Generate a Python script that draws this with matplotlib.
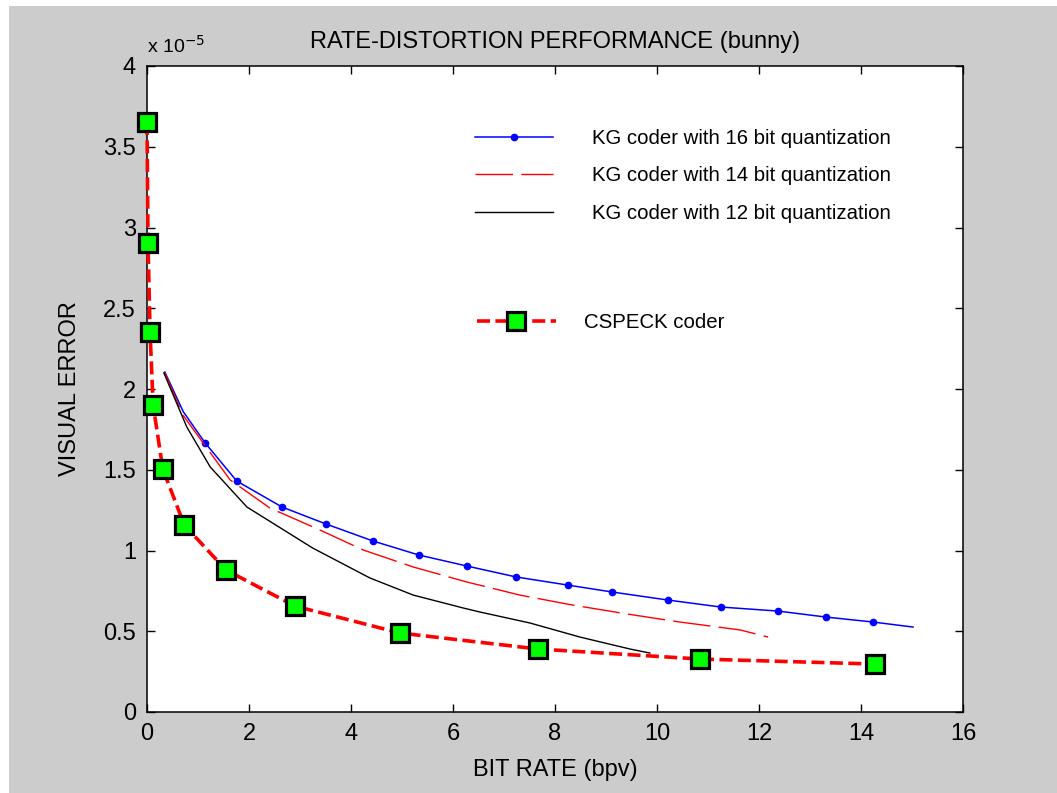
import matplotlib
matplotlib.use("Agg")
import matplotlib.pyplot as plt
from matplotlib.patches import Rectangle
from matplotlib.ticker import FormatStrFormatter

# Data (visual error in units of 1e-5)
kg16_rate = [0.35, 0.71, 1.14, 1.76, 2.65, 3.51, 4.43, 5.33, 6.27, 7.24, 8.25,
             9.12, 10.22, 11.25, 12.37, 13.31, 14.24, 15.02]
kg16_err = [2.105, 1.86, 1.666, 1.430, 1.269, 1.164, 1.059, 0.972, 0.904, 0.836,
            0.786, 0.743, 0.693, 0.650, 0.625, 0.588, 0.557, 0.526]

kg14_rate = [0.35, 0.70, 1.63, 2.41, 3.39, 4.24, 5.22, 6.27, 7.31, 8.33, 9.41,
             10.45, 11.63, 12.18]
kg14_err = [2.100, 1.840, 1.437, 1.263, 1.127, 1.003, 0.898, 0.805, 0.724, 0.663,
            0.607, 0.557, 0.508, 0.464]

kg12_rate = [0.33, 0.78, 1.24, 1.96, 3.25, 4.37, 5.22, 6.20, 6.53, 7.51, 8.49, 9.47, 9.86]
kg12_err = [2.100, 1.765, 1.517, 1.269, 1.015, 0.830, 0.724, 0.644, 0.619, 0.551,
            0.464, 0.390, 0.365]

cspeck_rate = [0.0, 0.02, 0.06, 0.12, 0.31, 0.73, 1.55, 2.90, 4.96, 7.67, 10.84, 14.27]
cspeck_err = [3.653, 2.904, 2.353, 1.90, 1.505, 1.158, 0.879, 0.656, 0.489, 0.390,
              0.328, 0.297]

labels = [
    "KG coder with 16 bit quantization",
    "KG coder with 14 bit quantization",
    "KG coder with 12 bit quantization",
    "CSPECK coder",
]

gray = "#cccccc"
plt.rcParams["font.family"] = ["Liberation Sans", "DejaVu Sans"]

fig = plt.figure(figsize=(10.57, 7.93), dpi=100, facecolor="white")
# matlab-style grey window (thin white strip at top/left)
fig.patches.append(Rectangle((9 / 1057, 0), 1 - 9 / 1057, 1 - 6 / 793,
                             transform=fig.transFigure, facecolor=gray,
                             edgecolor="none", zorder=-10))

ax = fig.add_axes([147 / 1057, 1 - 712 / 793, 816 / 1057, 646 / 793])
ax.set_facecolor("white")

l16, = ax.plot(kg16_rate, kg16_err, color="blue", lw=1.1, marker="o", ms=4.5,
               markevery=list(range(2, len(kg16_rate) - 1)))
l14, = ax.plot(kg14_rate, kg14_err, color="red", lw=1.0, linestyle=(0, (27, 6)))
l12, = ax.plot(kg12_rate, kg12_err, color="black", lw=1.0)
lcs, = ax.plot(cspeck_rate, cspeck_err, color="red", lw=2.6,
               linestyle=(0, (3.6, 1.5)), marker="s", ms=13.5,
               markerfacecolor="#00ff00", markeredgecolor="black", mew=2.3,
               clip_on=False, zorder=5)

ax.set_xlim(0, 16)
ax.set_ylim(0, 4)
ax.set_xticks(range(0, 17, 2))
ax.set_yticks([0, 0.5, 1, 1.5, 2, 2.5, 3, 3.5, 4])
ax.yaxis.set_major_formatter(FormatStrFormatter("%g"))
ax.tick_params(direction="in", length=6, width=1, top=True, right=True,
               labelsize=17, pad=8)
for s in ax.spines.values():
    s.set_linewidth(1.1)

ax.set_title("RATE-DISTORTION PERFORMANCE (bunny)", fontsize=17, pad=13)
ax.set_xlabel("BIT RATE (bpv)", fontsize=17, labelpad=10)
ax.set_ylabel("VISUAL ERROR", fontsize=17, labelpad=16)
ax.text(0.0, 1.015, r"x 10$^{-5}$", transform=ax.transAxes, fontsize=14,
        ha="left", va="bottom")

leg1 = ax.legend([l16, l14, l12], labels[:3], loc="upper left",
                 bbox_to_anchor=(0.402, 0.903), frameon=False, fontsize=14.7,
                 handlelength=3.8, handletextpad=1.95, labelspacing=0.92,
                 borderpad=0, borderaxespad=0)
ax.add_artist(leg1)
ax.legend([lcs], labels[3:], loc="upper left", bbox_to_anchor=(0.404, 0.617),
          frameon=False, fontsize=14.7, handlelength=3.9, handletextpad=1.35,
          borderpad=0, borderaxespad=0, numpoints=1)

fig.savefig("out.png", dpi=100, facecolor=fig.get_facecolor())
